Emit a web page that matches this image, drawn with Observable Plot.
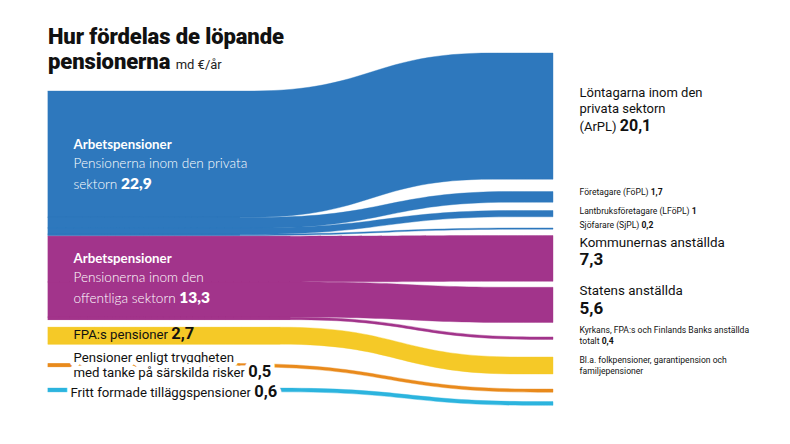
<!DOCTYPE html>
<html lang="sv">
<head>
<meta charset="utf-8">
<script src="https://cdn.jsdelivr.net/npm/d3@7"></script>
<script src="https://cdn.jsdelivr.net/npm/@observablehq/plot@0.6"></script>
<style>
  html, body { margin: 0; padding: 0; background: #fff; }
  #wrap { position: relative; width: 790px; height: 444px; overflow: hidden; }
  #wrap svg { position: absolute; left: 0; top: 0; }
  #title { position: absolute; left: 48px; top: 24px; margin: 0; color: #111;
           font: 900 22px/25px Roboto, sans-serif; letter-spacing: -0.1px; }
  #title span { font: 400 13px Roboto, sans-serif; letter-spacing: 0; color: #222; }
</style>
</head>
<body>
<div id="wrap"></div>
<script>
// Pension sources (left column), md €/år
const sourceNames = ["Privata sektorn", "Offentliga sektorn", "FPA", "Särskilda risker", "Tilläggspensioner"];
const sourceValues = [22.9, 13.3, 2.7, 0.5, 0.6];
const sourceColors = ["#2e78bd", "#a2348b", "#f5c927", "#e98a1c", "#2cb4de"];
const sourceLabels = [
  ["Arbetspensioner", "Pensionerna inom den privata", "sektorn"],
  ["Arbetspensioner", "Pensionerna inom den", "offentliga sektorn"],
  ["FPA:s pensioner"],
  ["Pensioner enligt tryggheten", "med tanke på särskilda risker"],
  ["Fritt formade tilläggspensioner"]
];

// Schemes the pensions are paid through (right column), md €/år
const targetNames = ["ArPL", "FöPL", "LFöPL", "SjPL", "Kommunerna", "Staten", "Kyrkan m.fl.", "Folkpension", "Risker", "Tillägg"];
const targetSources = ["Privata sektorn", "Privata sektorn", "Privata sektorn", "Privata sektorn",
  "Offentliga sektorn", "Offentliga sektorn", "Offentliga sektorn", "FPA", "Särskilda risker", "Tilläggspensioner"];
const targetValues = [20.1, 1.7, 1, 0.2, 7.3, 5.6, 0.4, 2.7, 0.5, 0.6];
const targetLabels = [
  ["Löntagarna inom den", "privata sektorn", "(ArPL)"],
  ["Företagare (FöPL)"],
  ["Lantbruksföretagare (LFöPL)"],
  ["Sjöfarare (SjPL)"],
  ["Kommunernas anställda"],
  ["Statens anställda"],
  ["Kyrkans, FPA:s och Finlands Banks anställda", "totalt"],
  ["Bl.a. folkpensioner, garantipension och", "familjepensioner"],
  [],
  []
];
const targetShowValue = [true, true, true, true, true, true, true, false, false, false];

// ---- layout ----
const W = 790, H = 444;
const pxPerUnit = 6.28;                 // vertical scale: px per md €
const bandLeft = 48, bandRight = 553;   // horizontal extent of the flows
const span = bandRight - bandLeft;
const leftGaps = [14.5, 0.1, 1.2, 3.1, 3.4];                              // space above each source
const rightGaps = [8.44, 1.96, 1.32, 1.78, 1.0, 0.95, 2.3, 2.8, 2.4, 1.5]; // space above each target
const bends = [[0.40, 0.88], [0.42, 0.92], [0.40, 0.93], [0.38, 0.95], [0.50, 0.93],
               [0.50, 0.93], [0.48, 0.97], [0.46, 0.93], [0.38, 0.97], [0.46, 0.97]];

// stack the sources on the left
const srcPos = new Map();
let acc = 0;
sourceNames.forEach((s, i) => {
  acc += leftGaps[i];
  const h = d3.sum(targetValues.filter((_, j) => targetSources[j] === s));
  srcPos.set(s, {top: acc, bottom: acc + h, center: acc + h / 2});
  acc += h;
});

// one ribbon per target, stacked inside its source on the left and in its own slot on the right
const flowRows = [];
const tgtPos = [];
const cursor = new Map([...srcPos].map(([s, p]) => [s, p.top]));
acc = 0;
targetNames.forEach((t, i) => {
  acc += rightGaps[i];
  const v = targetValues[i], s = targetSources[i];
  const l0 = cursor.get(s);
  cursor.set(s, l0 + v);
  const r0 = acc;
  acc += v;
  tgtPos.push({top: r0, bottom: acc, center: r0 + v / 2});
  const [b0, b1] = bends[i];
  for (const [x, a] of [[0, l0], [b0, l0], [b1, r0], [1, r0]]) {
    flowRows.push({target: t, source: s, x, y1: a, y2: a + v});
  }
});

// solid source blocks under the straight start of the ribbons
const blockRows = sourceNames.flatMap(s => {
  const p = srcPos.get(s);
  const x1 = d3.min(targetNames.map((_, j) => j).filter(j => targetSources[j] === s), j => bends[j][0]);
  return [0, x1].map(x => ({source: s, x, y1: p.top, y2: p.bottom}));
});

// ---- labels ----
const ctx = document.createElement("canvas").getContext("2d");
const textWidth = (s, st) => { ctx.font = `${st.weight} ${st.size}px ${st.family}`; return ctx.measureText(s).width; };
const fmt = v => String(v).replace(".", ",");

const LATO = "Lato, 'Open Sans', sans-serif";
const ROBOTO = "Roboto, 'Liberation Sans', sans-serif";
const st = {
  whiteHead: {family: LATO, weight: 700, size: 13.3, fill: "#fff"},
  whiteText: {family: LATO, weight: 300, size: 13.6, fill: "#fff"},
  whiteValue: {family: LATO, weight: 800, size: 15.5, fill: "#fff"},
  darkOnFill: {family: ROBOTO, weight: 400, size: 13.2, fill: "#111"},
  darkOnFillValue: {family: ROBOTO, weight: 700, size: 16.5, fill: "#111"},
  darkLeft: {family: ROBOTO, weight: 400, size: 13.2, fill: "#111", halo: true},
  darkLeftValue: {family: ROBOTO, weight: 700, size: 16.5, fill: "#111", halo: true},
  right: {family: ROBOTO, weight: 400, size: 13, fill: "#111"},
  rightValue: {family: ROBOTO, weight: 700, size: 16, fill: "#111"},
  rightBig: {family: ROBOTO, weight: 400, size: 13.4, fill: "#111"},
  rightBigValue: {family: ROBOTO, weight: 700, size: 17, fill: "#111"},
  small: {family: ROBOTO, weight: 400, size: 8.6, fill: "#111"},
  smallValue: {family: ROBOTO, weight: 700, size: 8.6, fill: "#111"}
};

// per label: x position (fraction of flow band), baseline offsets (px from node centre), styles
const sourceLabelLayout = [
  {x: 25 / span, offsets: [-15, 4, 25], styles: [st.whiteHead, st.whiteText, st.whiteText], value: st.whiteValue, inline: true},
  {x: 25 / span, offsets: [-15, 4, 25], styles: [st.whiteHead, st.whiteText, st.whiteText], value: st.whiteValue, inline: true},
  {x: 25 / span, offsets: [2.5], styles: [st.darkOnFill], value: st.darkOnFillValue, inline: true},
  {x: 25 / span, offsets: [-4, 11], styles: [st.darkLeft, st.darkLeft], value: st.darkLeftValue, inline: true},
  {x: 22 / span, offsets: [7], styles: [st.darkLeft], value: st.darkLeftValue, inline: true}
];
const rx = 1 + 26 / span;
const targetLabelLayout = [
  {x: rx, offsets: [-19.5, -3.5, 14], styles: [st.right, st.right, st.right], value: st.rightValue, inline: true},
  {x: rx, offsets: [-2], styles: [st.small], value: st.smallValue, inline: true},
  {x: rx, offsets: [0], styles: [st.small], value: st.smallValue, inline: true},
  {x: rx, offsets: [-1.5], styles: [st.small], value: st.smallValue, inline: true},
  {x: rx, offsets: [-12, 6.5], styles: [st.rightBig], value: st.rightBigValue, inline: false},
  {x: rx, offsets: [-10, 9], styles: [st.rightBig], value: st.rightBigValue, inline: false},
  {x: rx, offsets: [-6, 5], styles: [st.small, st.small], value: st.smallValue, inline: true},
  {x: rx, offsets: [-3.5, 7.5], styles: [st.small, st.small], value: null, inline: false},
  {x: rx, offsets: [], styles: [], value: null},
  {x: rx, offsets: [], styles: [], value: null}
];

const textRows = [];
// y of a middle-anchored single line whose baseline sits at `base` (md € units)
const lineY = (base, s) => base - 0.32 * s.size / pxPerUnit;
function addLabel(lines, valueText, center, lay) {
  lines.forEach((line, i) => {
    const s = lay.styles[i];
    const base = center + lay.offsets[i] / pxPerUnit;
    textRows.push({...s, x: lay.x, y: lineY(base, s), text: line});
  });
  if (valueText != null && lay.value) {
    const s = lay.value;
    if (lay.inline) {
      const last = lines.length - 1;
      const w = textWidth(lines[last] + " ", lay.styles[last]);
      const base = center + lay.offsets[last] / pxPerUnit;
      textRows.push({...s, x: lay.x + w / span, y: lineY(base, s), text: valueText});
    } else {
      const base = center + lay.offsets[lines.length] / pxPerUnit;
      textRows.push({...s, x: lay.x, y: lineY(base, s), text: valueText});
    }
  }
}
sourceNames.forEach((s, i) => addLabel(sourceLabels[i], fmt(sourceValues[i]), srcPos.get(s).center, sourceLabelLayout[i]));
targetNames.forEach((t, i) => addLabel(targetLabels[i], targetShowValue[i] ? fmt(targetValues[i]) : null, tgtPos[i].center, targetLabelLayout[i]));

// one text mark per font / colour combination
const textGroups = d3.groups(textRows, d => [d.family, d.weight, d.fill, !!d.halo].join("|"));
const textMarks = textGroups.map(([, rows]) => {
  const r = rows[0];
  return Plot.text(rows, {
    x: "x", y: "y", text: "text", fontSize: "size",
    textAnchor: "start", lineAnchor: "middle",
    fontFamily: r.family, fontWeight: r.weight, fill: r.fill,
    ...(r.halo ? {stroke: "#fff", strokeWidth: 9, strokeLinejoin: "round"} : {})
  });
});

const chart = Plot.plot({
  width: W, height: H,
  margin: 0,
  style: {background: "transparent"},
  x: {domain: [0, 1], range: [bandLeft, bandRight], axis: null},
  y: {domain: [0, H / pxPerUnit], range: [0, H], axis: null},
  color: {domain: sourceNames, range: sourceColors},
  marks: [
    Plot.areaY(blockRows, {x: "x", y1: "y1", y2: "y2", z: "source", fill: "source"}),
    // a hairline of the same colour closes the seams between adjacent ribbons
    Plot.areaY(flowRows, {x: "x", y1: "y1", y2: "y2", z: "target", fill: "source",
                          stroke: "source", strokeWidth: 0.4, curve: "bump-x"}),
    ...textMarks
  ]
});

const wrap = document.getElementById("wrap");
wrap.appendChild(chart);
const title = document.createElement("h1");
title.id = "title";
title.innerHTML = "Hur fördelas de löpande<br>pensionerna <span>md €/år</span>";
wrap.appendChild(title);
</script>
</body>
</html>
